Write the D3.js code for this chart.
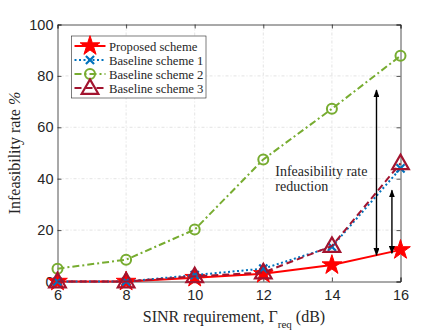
<!DOCTYPE html>
<html>
<head>
<meta charset="utf-8">
<script src="https://cdn.jsdelivr.net/npm/d3@7"></script>
<style>
  body { margin: 0; background: #fff; }
  svg text { fill: #262626; }
</style>
</head>
<body>
<script>
    let sinr = [6, 8, 10, 12, 14, 16];
    let proposed = [0, 0, 1.5, 3, 6.4, 12.3];
    let baseline1 = [0, 0, 2.5, 5, 13.5, 44];
    let baseline2 = [5, 8.5, 20.2, 47.5, 67.2, 87.8];
    let baseline3 = [0, 0, 2, 3.5, 13.8, 46];
    let xTicks = [6, 8, 10, 12, 14, 16];
    let yTicks = [0, 20, 40, 60, 80, 100];
    let seriesNames = ["Proposed scheme", "Baseline scheme 1", "Baseline scheme 2", "Baseline scheme 3"];
    // arrows: [x position (dB), from value, to value]
    let arrows = [[15.3, 10.2, 74.5], [15.75, 11, 35.5]];

    let width = 443, height = 332;
    let padding = {"top": 24.5, "bottom": 50.5, "left": 57.5, "right": 42.5};
    let w = width - padding.left - padding.right,
        h = height - padding.top - padding.bottom;

    const svg = d3.select("body")
      .append("svg")
      .attr("width", width)
      .attr("height", height);

    let xscale = d3.scaleLinear().domain([6, 16]).range([0, w]);
    let yscale = d3.scaleLinear().domain([0, 100]).range([h, 0]);

    let g = svg.append("g")
      .attr("transform", "translate(" + padding.left + "," + padding.top + ")");

    // grid
    g.selectAll(".gx").data(xTicks.slice(1, -1)).enter().append("line")
      .attr("x1", (d) => xscale(d)).attr("x2", (d) => xscale(d))
      .attr("y1", 0).attr("y2", h)
      .attr("stroke", "#dcdcdc").attr("stroke-width", 0.8)
      .attr("stroke-dasharray", "3,2,1,2");
    g.selectAll(".gy").data(yTicks.slice(1, -1)).enter().append("line")
      .attr("y1", (d) => yscale(d)).attr("y2", (d) => yscale(d))
      .attr("x1", 0).attr("x2", w)
      .attr("stroke", "#dcdcdc").attr("stroke-width", 0.8)
      .attr("stroke-dasharray", "3,2,1,2");

    // axes
    let x_axis = d3.axisBottom(xscale).tickValues(xTicks).tickSize(-4).tickPadding(8).tickFormat(d3.format("d"));
    let y_axis = d3.axisLeft(yscale).tickValues(yTicks).tickSize(-4).tickPadding(4).tickFormat(d3.format("d"));

    g.append("g").attr("transform", "translate(0," + h + ")").call(x_axis);
    g.append("g").call(y_axis);
    g.append("g").attr("transform", "translate(0,0)")
      .call(d3.axisTop(xscale).tickValues(xTicks).tickSize(-4).tickFormat(""));
    g.append("g").attr("transform", "translate(" + w + ",0)")
      .call(d3.axisRight(yscale).tickValues(yTicks).tickSize(-4).tickFormat(""));

    g.selectAll(".domain").attr("stroke", "#262626").attr("stroke-width", 0.8);
    g.selectAll(".tick line").attr("stroke", "#262626").attr("stroke-width", 0.8);
    g.selectAll(".tick text")
      .style("font-family", "Liberation Sans, Arial, sans-serif")
      .style("font-size", "14.5px")
      .attr("fill", "#262626");

    // series
    let series = [
      {name: seriesNames[0], values: proposed, color: "#ff0000", dash: null, width: 2, marker: "star"},
      {name: seriesNames[1], values: baseline1, color: "#0072bd", dash: "2,2.5", width: 2, marker: "cross"},
      {name: seriesNames[2], values: baseline2, color: "#77ac30", dash: "7,3,2,3", width: 2, marker: "circle"},
      {name: seriesNames[3], values: baseline3, color: "#a2142f", dash: "7,4", width: 2, marker: "triangle"}
    ];

    let line = d3.line().x((d) => xscale(d[0])).y((d) => yscale(d[1]));

    function drawMarker(sel, type, color) {
      if (type === "star") {
        sel.append("path")
          .attr("d", d3.symbol().type(d3.symbolStar).size(120))
          .attr("fill", color).attr("stroke", color).attr("stroke-width", 1);
      } else if (type === "cross") {
        sel.append("path")
          .attr("d", d3.symbol().type(d3.symbolX).size(45))
          .attr("fill", "none").attr("stroke", color).attr("stroke-width", 2.2);
      } else if (type === "circle") {
        sel.append("circle").attr("r", 5)
          .attr("fill", "none").attr("stroke", color).attr("stroke-width", 2);
      } else {
        sel.append("path")
          .attr("d", d3.symbol().type(d3.symbolTriangle).size(120))
          .attr("transform", "translate(0,1)")
          .attr("fill", "none").attr("stroke", color).attr("stroke-width", 2.2);
      }
    }

    series.forEach((s) => {
      let pts = sinr.map((x, i) => [x, s.values[i]]);
      g.append("path").datum(pts)
        .attr("d", line)
        .attr("fill", "none")
        .attr("stroke", s.color)
        .attr("stroke-width", s.width)
        .attr("stroke-dasharray", s.dash);
      g.selectAll(null).data(pts).enter().append("g")
        .attr("transform", (d) => "translate(" + xscale(d[0]) + "," + yscale(d[1]) + ")")
        .each(function () { drawMarker(d3.select(this), s.marker, s.color); });
    });

    // arrows
    let defs = svg.append("defs");
    defs.append("marker")
      .attr("id", "head")
      .attr("viewBox", "0 0 10 10")
      .attr("refX", 9).attr("refY", 5)
      .attr("markerWidth", 8).attr("markerHeight", 6)
      .attr("markerUnits", "userSpaceOnUse")
      .attr("preserveAspectRatio", "none")
      .attr("orient", "auto-start-reverse")
      .append("path").attr("d", "M0,0 L10,5 L0,10 Z").attr("fill", "#000");

    g.selectAll(".arrow").data(arrows).enter().append("line")
      .attr("x1", (d) => xscale(d[0])).attr("x2", (d) => xscale(d[0]))
      .attr("y1", (d) => yscale(d[1])).attr("y2", (d) => yscale(d[2]))
      .attr("stroke", "#000").attr("stroke-width", 1.4)
      .attr("marker-start", "url(#head)").attr("marker-end", "url(#head)");

    g.append("text")
      .attr("x", xscale(12.35)).attr("y", yscale(40.9))
      .style("font-family", "Liberation Serif, Times New Roman, serif")
      .style("font-size", "14px")
      .attr("fill", "#000")
      .text("Infeasibility rate");
    g.append("text")
      .attr("x", xscale(12.35)).attr("y", yscale(35.4))
      .style("font-family", "Liberation Serif, Times New Roman, serif")
      .style("font-size", "14px")
      .attr("fill", "#000")
      .text("reduction");

    // legend
    let legend = svg.append("g").attr("transform", "translate(71.5,36)");
    legend.append("rect")
      .attr("width", 134.5).attr("height", 62)
      .attr("fill", "#fff").attr("stroke", "#262626").attr("stroke-width", 0.6);
    series.forEach((s, i) => {
      let row = legend.append("g").attr("transform", "translate(0," + (10 + i * 14) + ")");
      row.append("line")
        .attr("x1", 3).attr("x2", 34)
        .attr("stroke", s.color).attr("stroke-width", s.width)
        .attr("stroke-dasharray", s.dash);
      let m = row.append("g").attr("transform", "translate(18.5,0)");
      drawMarker(m, s.marker, s.color);
      row.append("text")
        .attr("x", 37.5).attr("y", 4.5)
        .style("font-family", "Liberation Serif, Times New Roman, serif")
        .style("font-size", "12.7px")
        .attr("fill", "#000")
        .text(s.name);
    });

    // axis labels
    let xl = svg.append("text")
      .attr("x", padding.left + w / 2 + 5).attr("y", 322)
      .attr("text-anchor", "middle")
      .style("font-family", "Liberation Serif, Times New Roman, serif")
      .style("font-size", "16px");
    xl.append("tspan").text("SINR requirement, \u0393");
    xl.append("tspan").attr("dy", 6).style("font-size", "11px").text("req");
    xl.append("tspan").attr("dy", -6).text(" (dB)");

    let yl = svg.append("text")
      .attr("transform", "translate(20," + 153 + ") rotate(-90)")
      .attr("text-anchor", "middle")
      .style("font-family", "Liberation Serif, Times New Roman, serif")
      .style("font-size", "16px");
    yl.append("tspan").text("Infeasibility rate ");
    yl.append("tspan").style("font-style", "italic").text("%");
</script>
</body>
</html>
